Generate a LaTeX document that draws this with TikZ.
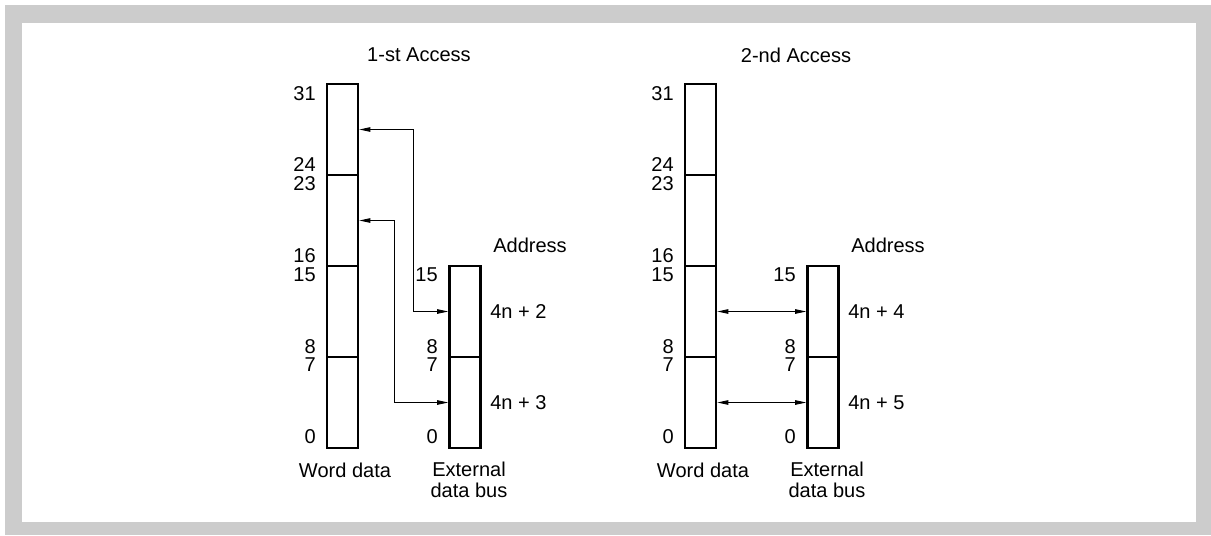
\documentclass[tikz,border=0pt]{standalone}
\usepackage{fontspec}
\setmainfont{Liberation Sans}
\usetikzlibrary{arrows.meta, positioning}

\begin{document}
\begin{tikzpicture}[
  x=0.02cm, y=-0.02cm,
  cell/.style={rectangle, minimum width=0.62cm, minimum height=1.82cm,
               draw=black, line width=1.5pt, inner sep=0pt},
  bitno/.style={anchor=east, inner sep=0pt},
  lbl/.style={inner sep=0pt, align=center},
  link/.style={{Triangle[length=2.2mm,width=0.9mm]}-{Triangle[length=2.2mm,width=0.9mm]},
               line width=0.5pt},
  font=\fontsize{11.4}{11.6}\selectfont
]
% frame
\useasboundingbox (0,0) rectangle (1211,535);
\fill[black!20] (5,5) rectangle (1211,535);
\fill[white] (22,23) rectangle (1196,522);

\node[lbl] (title1) at (419,55) {1-st Access};
\node[lbl] (title2) at (796,55) {2-nd Access};

\foreach \s/\dx/\na/\nb in {1/0/2/3, 2/358/4/5} {
  % word data, 4 bytes
  \foreach \k in {1,...,4}
    \node[cell] (w\s\k) at ({342.5+\dx},{38.5+91*\k}) {};
  % external data bus, 2 bytes
  \foreach \k in {3,4}
    \node[cell] (e\s\k) at ({465+\dx},{38.5+91*\k}) {};

  \foreach \b/\y in {31/94, 24/165, 23/184, 16/256, 15/275, 8/347, 7/365, 0/437}
    \node[bitno] (wb\s-\b) at ({316+\dx},\y) {\b};
  \foreach \b/\y in {15/275, 8/347, 7/365, 0/437}
    \node[bitno] (eb\s-\b) at ({438+\dx},\y) {\b};

  \node[lbl] (addr\s) at ({530+\dx},245) {Address};
  \node[lbl, anchor=west] (hi\s) at ({490+\dx},311.5) {4n + \na};
  \node[lbl, anchor=west] (lo\s) at ({490+\dx},402.5) {4n + \nb};
  \node[lbl] (word\s) at ({345+\dx},470) {Word data};
  \node[lbl] (bus\s) at ({469+\dx},480) {External\\data bus};
}

% 1-st access
\draw[link] (w11.east) -- ++(54,0) |- (e13.west);
\draw[link] (w12.east) -- ++(35,0) |- (e14.west);
% 2-nd access
\draw[link] (w23.east) -- (e23.west);
\draw[link] (w24.east) -- (e24.west);
\end{tikzpicture}
\end{document}
